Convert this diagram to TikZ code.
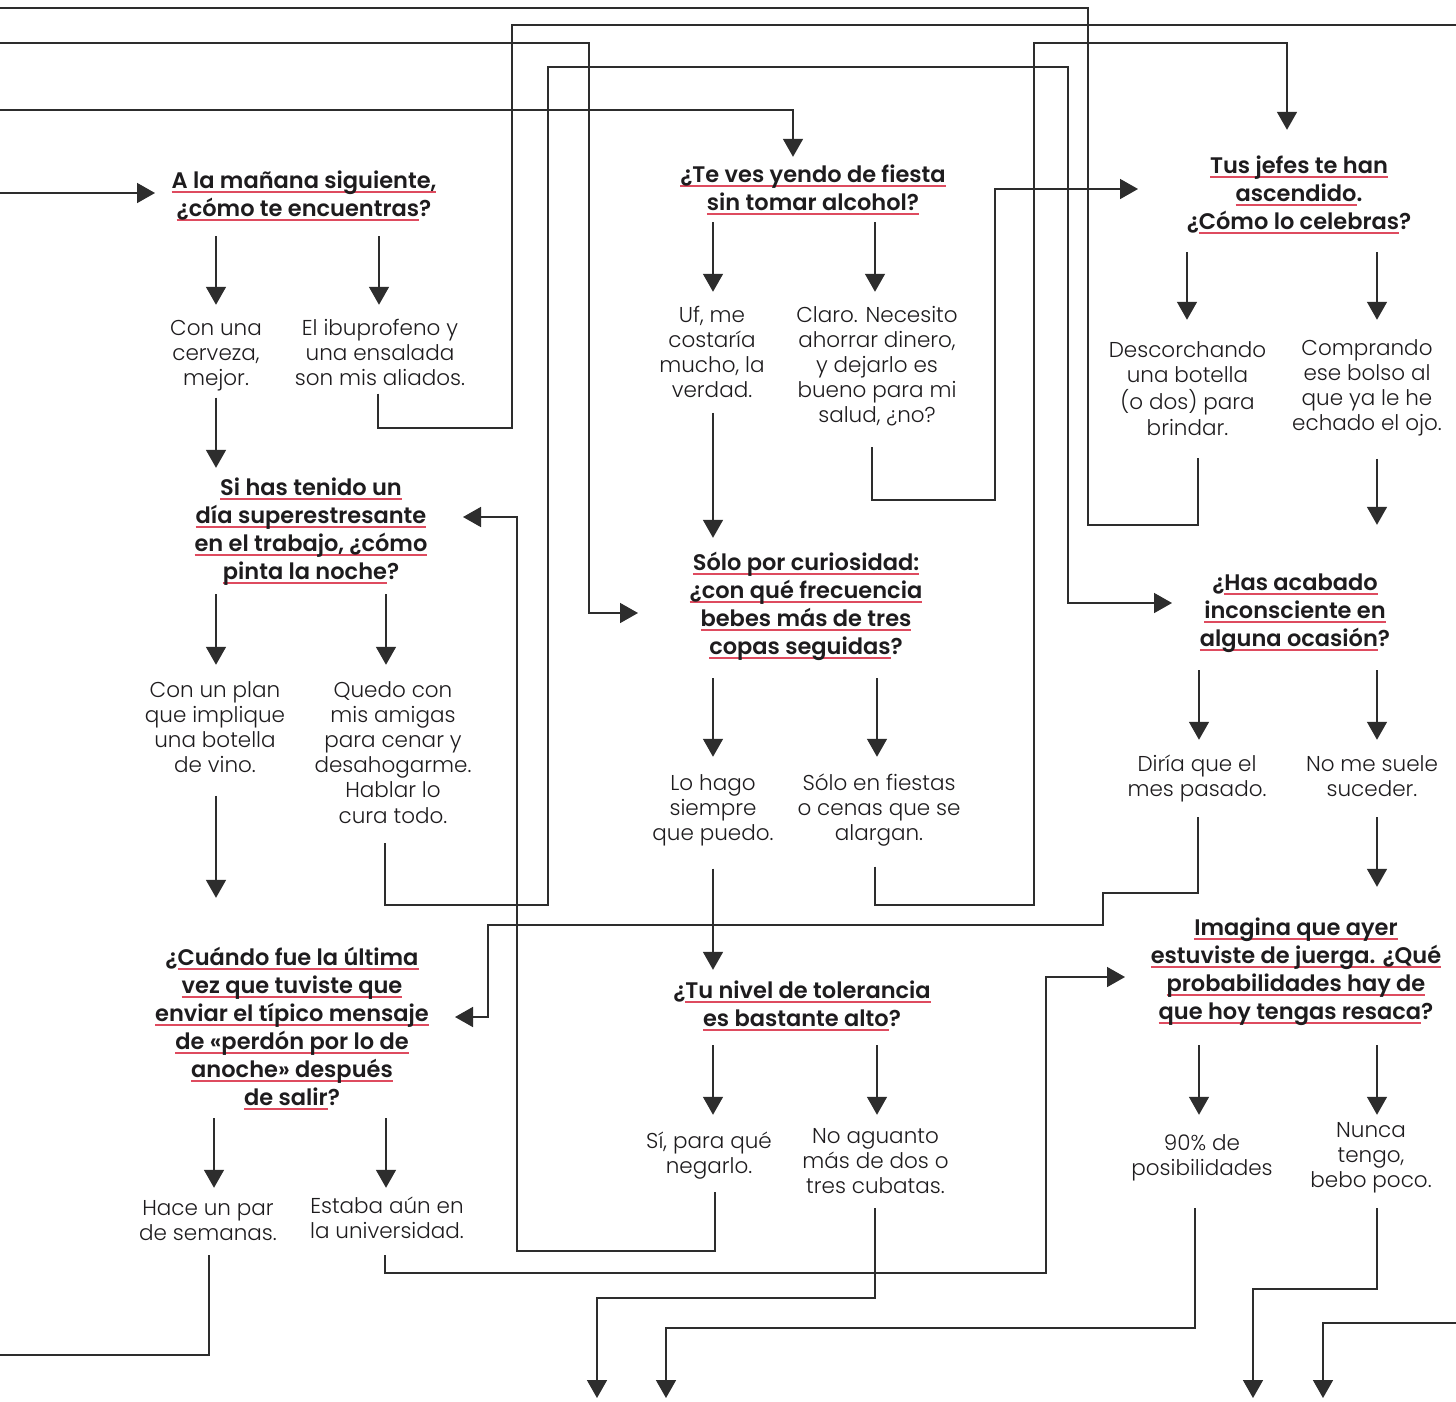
\documentclass[tikz,border=0pt]{standalone}
\usepackage{fontspec}
\usetikzlibrary{arrows.meta,calc}
\newfontfamily\qfam{Poppins SemiBold}
\newfontfamily\afam{Poppins Light}
\definecolor{ulc}{RGB}{222,75,95}
\definecolor{linec}{RGB}{45,45,45}
\definecolor{txt}{RGB}{30,28,30}
\newcommand\redul[1]{\setbox0\hbox{#1}\rlap{\textcolor{ulc}{\rule[-5pt]{\wd0}{2pt}}}\box0}
\newcommand\Qt[1]{{\fontsize{22.5}{28}\qfam\begin{tabular}[t]{@{}c@{}}#1\end{tabular}}}
\newcommand\At[1]{{\fontsize{21.5}{25.2}\afam\begin{tabular}[t]{@{}c@{}}#1\end{tabular}}}
\newcommand\varr[5]{\draw[arr,shorten >=#5pt] (#1.south -| #3,0) ++(0,#4) -- (#2.north -| #3,0);}
\begin{document}
\begin{tikzpicture}[x=1pt,y=-1pt,
  ln/.style={draw=linec,line width=1.6pt},
  arr/.style={ln,-{Triangle[length=18pt,width=20pt]}},
  q/.style={anchor=base,inner sep=0pt,text=txt},
  a/.style={anchor=base,inner sep=0pt,text=txt}]
\fill[white] (0,0) rectangle (1456,1401);
\useasboundingbox (0,0) rectangle (1456,1401);
% questions
\node[q] (Q1) at (304,188) {\Qt{\redul{A la mañana siguiente,}\\\redul{¿cómo te encuentras}?}};
\node[q] (Q2) at (311,495) {\Qt{\redul{Si has tenido un}\\\redul{día superestresante}\\\redul{en el trabajo, ¿cómo}\\\redul{pinta la noche}?}};
\node[q] (Q3) at (292,965) {\Qt{¿\redul{Cuándo fue la última}\\\redul{vez que tuviste que}\\\redul{enviar el típico mensaje}\\\redul{de «perdón por lo de}\\\redul{anoche» después}\\\redul{de salir}?}};
\node[q] (Q4) at (813,182) {\Qt{\redul{¿Te ves yendo de fiesta}\\\redul{sin tomar alcohol?}}};
\node[q] (Q5) at (806,570) {\Qt{\redul{Sólo por curiosidad:}\\\redul{¿con qué frecuencia}\\\redul{bebes más de tres}\\\redul{copas seguidas}?}};
\node[q] (Q6) at (802,998) {\Qt{¿\redul{Tu nivel de tolerancia}\\\redul{es bastante alto}?}};
\node[q] (Q7) at (1299,173) {\Qt{\redul{Tus jefes te han}\\\redul{ascendido}.\\¿\redul{Cómo lo celebras}?}};
\node[q] (Q8) at (1295,590) {\Qt{¿\redul{Has acabado}\\\redul{inconsciente en}\\\redul{alguna ocasión}?}};
\node[q] (Q9) at (1296,935) {\Qt{\redul{Imagina que ayer}\\\redul{estuviste de juerga. ¿Qué}\\\redul{probabilidades hay de}\\\redul{que hoy tengas resaca}?}};
% answers
\node[a] (A) at (216,335) {\At{Con una\\cerveza,\\mejor.}};
\node[a] (B) at (380,335) {\At{El ibuprofeno y\\una ensalada\\son mis aliados.}};
\node[a] (C) at (215,697) {\At{Con un plan\\que implique\\una botella\\de vino.}};
\node[a] (D) at (393,697) {\At{Quedo con\\mis amigas\\para cenar y\\desahogarme.\\Hablar lo\\cura todo.}};
\node[a] (E) at (208,1215) {\At{Hace un par\\de semanas.}};
\node[a] (F) at (387,1213) {\At{Estaba aún en\\la universidad.}};
\node[a] (G) at (712,322) {\At{Uf, me\\costaría\\mucho, la\\verdad.}};
\node[a] (H) at (877,322) {\At{Claro. Necesito\\ahorrar dinero,\\y dejarlo es\\bueno para mi\\salud, ¿no?}};
\node[a] (I) at (713,790) {\At{Lo hago\\siempre\\que puedo.}};
\node[a] (J) at (879,790) {\At{Sólo en fiestas\\o cenas que se\\alargan.}};
\node[a] (K) at (709,1148) {\At{Sí, para qué\\negarlo.}};
\node[a] (L) at (875.5,1143) {\At{No aguanto\\más de dos o\\tres cubatas.}};
\node[a] (M) at (1187.5,357) {\At{Descorchando\\una botella\\(o dos) para\\brindar.}};
\node[a] (N) at (1367,355) {\At{Comprando\\ese bolso al\\que ya le he\\echado el ojo.}};
\node[a] (O) at (1197,771) {\At{Diría que el\\mes pasado.}};
\node[a] (P) at (1372,771) {\At{No me suele\\suceder.}};
\node[a] (R) at (1202,1150) {\At{90\% de\\posibilidades}};
\node[a] (S) at (1371,1137) {\At{Nunca\\tengo,\\bebo poco.}};
% free ends
\coordinate (o8) at (0,8);
\coordinate (o25) at (1456,25);
\coordinate (i43) at (0,43);
\coordinate (i110) at (0,110);
\coordinate (i193) at (0,193);
\coordinate (o1355) at (0,1355);
\coordinate (d597) at (597,1398);
\coordinate (d666) at (666,1398);
\coordinate (d1253) at (1253,1398);
\coordinate (d1323) at (1323,1398);
\coordinate (i1323) at (1456,1323);
% straight arrows
\varr{Q1}{A}{216}{11.6}{12.4}
\varr{Q1}{B}{379}{11.6}{12.4}
\varr{A}{Q2}{216}{4.4}{7.4}
\varr{Q2}{C}{216}{6.6}{14.4}
\varr{Q2}{D}{386}{6.6}{14.4}
\varr{C}{Q3}{216}{15.4}{47.4}
\varr{Q3}{E}{214}{4.6}{9.4}
\varr{Q3}{F}{386}{4.6}{7.4}
\varr{Q4}{G}{713}{3.6}{12.4}
\varr{Q4}{H}{875}{3.6}{12.4}
\varr{G}{Q5}{713}{7.4}{12.4}
\varr{Q5}{I}{713}{15.6}{15.4}
\varr{Q5}{J}{877}{15.6}{15.4}
\varr{I}{Q6}{713}{20.4}{8.4}
\varr{Q6}{K}{713}{10.6}{15.4}
\varr{Q6}{L}{877}{10.6}{10.4}
\varr{Q7}{M}{1187}{14.6}{19.4}
\varr{Q7}{N}{1377}{14.6}{17.4}
\varr{N}{Q8}{1377}{20.4}{45.4}
\varr{Q8}{O}{1199}{15.6}{13.4}
\varr{Q8}{P}{1377}{15.6}{13.4}
\varr{P}{Q9}{1377}{13.4}{28.4}
\varr{Q9}{R}{1199}{17.6}{17.4}
\varr{Q9}{S}{1377}{17.6}{4.4}
% routed connectors
\draw[ln] (M.south -| 1198,0) ++(0,15.5) |- (1088,525) |- (o8);
\draw[ln] (B.south -| 378,0) ++(0,0.5) |- (512,428) |- (o25);
\draw[arr] (i43) -| (589,613) -- (638,613);
\draw[arr] (D.south -| 385,0) ++(0,12.4) |- (548,905) |- (1068,67) |- (1172,603);
\draw[arr,shorten >=5.4pt] (i110) -| (Q4.north -| 793,0);
\draw[arr] (i193) -- (155,193);
\draw[arr,shorten >=23.4pt] (J.south -| 875,0) ++(0,18.4) |- (1034,905) |- (1287,43) -- (Q7.north -| 1287,0);
\draw[arr] (H.south -| 872,0) ++(0,16.6) |- (995,500) |- (1138,189);
\draw[arr] (K.south -| 715,0) ++(0,11.2) |- (517,1251) |- (463,517);
\draw[arr] (O.south -| 1198,0) ++(0,13.2) |- (1103,893) |- (488,925) |- (455,1017);
\draw[arr] (F.south -| 385,0) ++(0,9.2) |- (1046,1273) |- (1125,977);
\draw[ln] (E.south -| 209,0) ++(0,7.2) |- (o1355);
\draw[arr] (L.south -| 875,0) ++(0,7) |- (597,1298) -- (d597);
\draw[arr] (R.south -| 1195,0) ++(0,25.2) |- (666,1328) -- (d666);
\draw[arr] (S.south -| 1377,0) ++(0,13) |- (1253,1289) -- (d1253);
\draw[arr] (i1323) -| (d1323);
\end{tikzpicture}
\end{document}
